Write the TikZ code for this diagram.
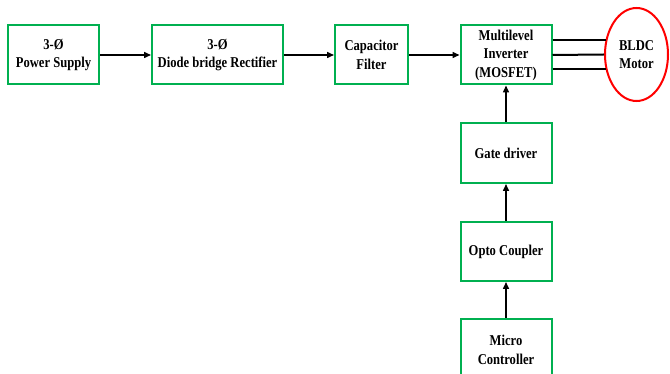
\documentclass[tikz,border=0pt]{standalone}
\usepackage{fontspec}
\setmainfont{Liberation Serif}[BoldFont={Liberation Serif Bold},FakeStretch=0.84]
\usetikzlibrary{arrows.meta,shapes.geometric}
\definecolor{boxgreen}{RGB}{0,176,80}
\begin{document}
\begin{tikzpicture}[x=1pt,y=-1pt,
  blk/.style={draw=boxgreen, line width=2pt, fill=white, align=center,
    font=\rmfamily\bfseries\fontsize{15}{18.5}\selectfont, inner sep=0pt},
  arr/.style={line width=1.5pt, -{Triangle[length=7pt,width=6pt]}},
  wire/.style={line width=2pt}]
\useasboundingbox (0,0) rectangle (670,374);
\clip (0,0) rectangle (670,374);
\node[blk, minimum width=91, minimum height=59] (ps) at (53.5,55) {3-Ø\\Power Supply};
\node[blk, minimum width=131, minimum height=59] (rect) at (217.5,55) {3-Ø\\Diode bridge Rectifier};
\node[blk, minimum width=73, minimum height=59] (cap) at (371.5,55) {Capacitor\\Filter};
\node[blk, minimum width=91, minimum height=59] (inv) at (506,55) {Multilevel\\Inverter\\(MOSFET)};
\node[blk, draw=red, ellipse, minimum width=63, minimum height=93] (motor) at (636.5,54.5) {BLDC\\Motor};
\node[blk, minimum width=91, minimum height=60] (gd) at (506,153) {Gate driver};
\node[blk, minimum width=91, minimum height=59] (opto) at (506,251.5) {Opto Coupler};
\node[blk, minimum width=91, minimum height=62] (mc) at (506,350) {Micro\\Controller};
\draw[arr] (ps) -- (rect);
\draw[arr] (rect) -- (cap);
\draw[arr] (cap) -- (inv);
\draw[arr] (gd) -- (inv);
\draw[arr] (opto) -- (gd);
\draw[arr] (mc) -- (opto);
\draw[wire] ([yshift=14.5pt]inv.east) -- ([yshift=14.5pt]inv.east -| motor.153);
\draw[wire] (inv.east) -- (motor.west);
\draw[wire] ([yshift=-14.5pt]inv.east) -- ([yshift=-14.5pt]inv.east -| motor.207);
\end{tikzpicture}
\end{document}
